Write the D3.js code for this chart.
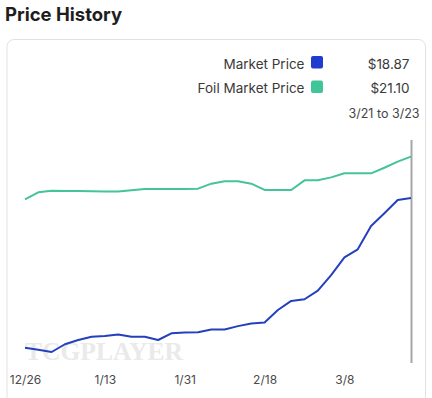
<!DOCTYPE html>
<html>
<head>
<meta charset="utf-8">
<script src="https://cdn.jsdelivr.net/npm/d3@7"></script>
<style>
  body { margin: 0; background: #fff; }
  svg { display: block; font-family: Inter, "Noto Sans", sans-serif; }
</style>
</head>
<body>
<svg id="chart" width="432" height="398"></svg>
<script>
// ---- data ----
const startDate = "2022-12-26";
const endDate = "2023-03-23";
const dates = [
  "2022-12-26","2022-12-29","2023-01-01","2023-01-04","2023-01-07","2023-01-10",
  "2023-01-13","2023-01-16","2023-01-19","2023-01-22","2023-01-25","2023-01-28",
  "2023-01-31","2023-02-03","2023-02-06","2023-02-09","2023-02-12","2023-02-15",
  "2023-02-18","2023-02-21","2023-02-24","2023-02-27","2023-03-02","2023-03-05",
  "2023-03-08","2023-03-11","2023-03-14","2023-03-17","2023-03-20","2023-03-23"
];
const marketPrice = [
  10.77, 10.66, 10.54, 10.96, 11.19, 11.37, 11.41, 11.49, 11.37, 11.37,
  11.19, 11.55, 11.59, 11.61, 11.76, 11.76, 11.94, 12.08, 12.14, 12.81,
  13.30, 13.39, 13.86, 14.70, 15.66, 16.09, 17.35, 18.04, 18.76, 18.87
];
const foilMarketPrice = [
  18.79, 19.17, 19.26, 19.24, 19.24, 19.23, 19.22, 19.21, 19.28, 19.35,
  19.35, 19.35, 19.35, 19.37, 19.64, 19.77, 19.77, 19.64, 19.30, 19.30,
  19.30, 19.82, 19.82, 19.98, 20.20, 20.20, 20.20, 20.50, 20.83, 21.10
];
const tickDates = ["2022-12-26","2023-01-13","2023-01-31","2023-02-18","2023-03-08"];
const seriesNames = ["Market Price", "Foil Market Price"];
const seriesLabels = ["$18.87", "$21.10"];
const rangeLabel = "3/21 to 3/23";
const yDomain = [10, 22];
const title = "Price History";
const watermark = "TCGPLAYER";

// ---- drawing ----
const parse = d3.timeParse("%Y-%m-%d");
const svg = d3.select("#chart");
const colors = ["#1f3ccf", "#3fc597"];
const lineColors = ["#2540bd", "#45c39a"];

svg.append("text").attr("x", 5).attr("y", 21)
  .attr("font-size", 18.5).attr("font-weight", 700).attr("fill", "#1e1e1e")
  .text(title);

svg.append("rect").attr("x", 7).attr("y", 39.5).attr("width", 418.5).attr("height", 380)
  .attr("rx", 7).attr("fill", "#fff").attr("stroke", "#e2e2e2").attr("stroke-width", 1);

const x = d3.scaleTime().domain([parse(startDate), parse(endDate)]).range([25, 411]);
const y = d3.scaleLinear().domain(yDomain).range([362, 140]);

// watermark
svg.append("text").attr("x", 25).attr("y", 360)
  .attr("font-family", "'Liberation Serif', serif").attr("font-weight", 700)
  .attr("font-size", 25).attr("fill", "#eaeaea")
  .attr("textLength", 158).attr("lengthAdjust", "spacingAndGlyphs")
  .text(watermark);

// hover line
svg.append("line").attr("x1", x(parse(endDate)) + 0.5).attr("x2", x(parse(endDate)) + 0.5)
  .attr("y1", y(yDomain[1])).attr("y2", y(yDomain[0]) + 1)
  .attr("stroke", "#a6a6a6").attr("stroke-width", 2);

const series = [marketPrice, foilMarketPrice];
const line = d3.line().x((d, i) => x(parse(dates[i]))).y(d => y(d));
series.forEach((s, k) => {
  svg.append("path").datum(s).attr("d", line)
    .attr("fill", "none").attr("stroke", lineColors[k]).attr("stroke-width", 2)
    .attr("stroke-linejoin", "round");
});

// legend
const legendY = [68.5, 93];
seriesNames.forEach((n, k) => {
  svg.append("text").attr("x", 304.5).attr("y", legendY[k]).attr("text-anchor", "end")
    .attr("font-size", 13.5).attr("fill", "#3a3a3a").text(n);
  svg.append("rect").attr("x", 311).attr("y", legendY[k] - 12.5).attr("width", 12).attr("height", 12.5)
    .attr("rx", 2).attr("fill", colors[k]);
  svg.append("text").attr("x", 409.5).attr("y", legendY[k]).attr("text-anchor", "end")
    .attr("font-size", 13.5).attr("fill", "#3a3a3a").text(seriesLabels[k]);
});
svg.append("text").attr("x", 419.5).attr("y", 118).attr("text-anchor", "end")
  .attr("font-size", 12.5).attr("fill", "#444").text(rangeLabel);

// x axis
const axis = d3.axisBottom(x).tickValues(tickDates.map(parse))
  .tickFormat(d3.timeFormat("%-m/%-d")).tickSize(0).tickPadding(0);
const g = svg.append("g").attr("transform", "translate(0,375)").call(axis);
g.select(".domain").remove();
g.selectAll("text").attr("font-family", "Inter, 'Noto Sans', sans-serif")
  .attr("font-size", 12).attr("fill", "#4a4a4a");
</script>
</body>
</html>
